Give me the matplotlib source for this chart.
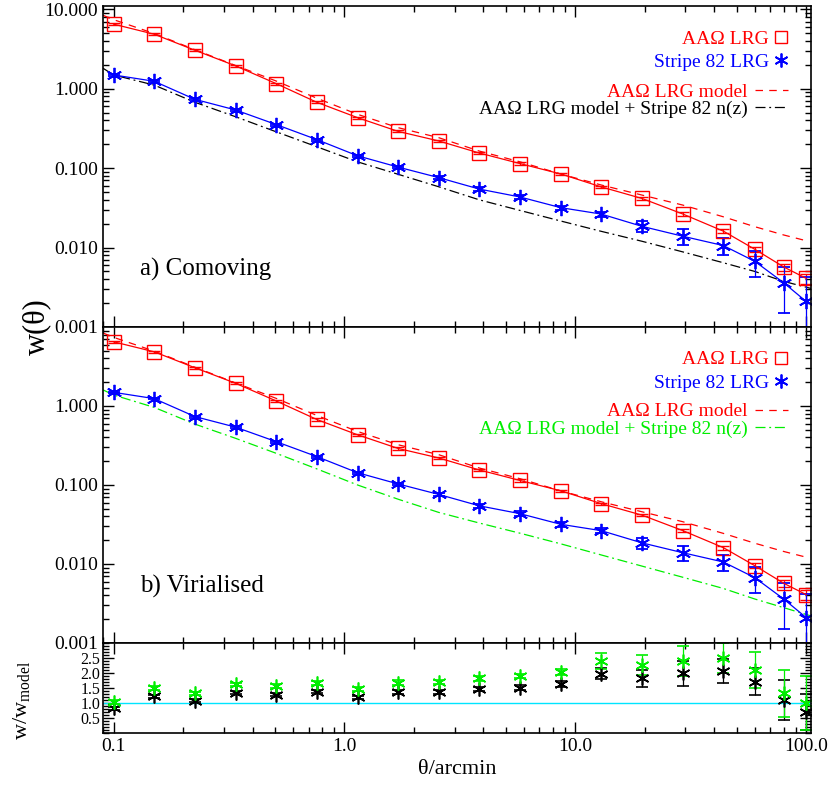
import matplotlib
matplotlib.use("Agg")
import matplotlib.pyplot as plt
from matplotlib.lines import Line2D
from matplotlib.ticker import MultipleLocator, NullFormatter

plt.rcParams["font.family"] = ["Liberation Serif", "DejaVu Serif"]
plt.rcParams["mathtext.fontset"] = "custom"
plt.rcParams["mathtext.rm"] = "Liberation Serif"
plt.rcParams["mathtext.it"] = "Liberation Serif:italic"

# angular bins (arcmin)
theta = [0.1, 0.15, 0.225, 0.3375, 0.506, 0.759, 1.14, 1.71, 2.56, 3.84,
         5.77, 8.65, 12.97, 19.46, 29.19, 43.8, 60, 80, 100]

# AAOmega LRG w(theta)
w_aao = [6.5, 4.85, 3.05, 1.94, 1.16, 0.675, 0.432, 0.290, 0.220, 0.155,
         0.114, 0.0845, 0.058, 0.0415, 0.0265, 0.0161, 0.0095, 0.0057, 0.0041]
err_aao = [0.2, 0.15, 0.09, 0.06, 0.035, 0.02, 0.013, 0.009, 0.007, 0.005,
           0.004, 0.003, 0.002, 0.0015, 0.0012, 0.0009, 0.0007, 0.0006, 0.0006]

# Stripe 82 LRG w(theta)
w_s82 = [1.49, 1.24, 0.735, 0.54, 0.354, 0.229, 0.143, 0.103, 0.076, 0.0545,
         0.0433, 0.0318, 0.0264, 0.0185, 0.0139, 0.0106, 0.0067, 0.0036, 0.0021]
err_s82 = [0.03, 0.03, 0.02, 0.015, 0.01, 0.007, 0.005, 0.004, 0.003, 0.003,
           0.003, 0.002, 0.0018, 0.0028, 0.003, 0.0025, 0.0024, 0.0021, 0.0021]

# model curves
theta_model = [0.09, 0.1, 0.15, 0.225, 0.3375, 0.506, 0.759, 1.14, 1.71, 2.56,
               3.84, 5.77, 8.65, 12.97, 19.46, 29.19, 43.8, 60, 80, 100]
w_model_aao = [8.4, 7.4, 4.95, 3.1, 1.96, 1.25, 0.76, 0.476, 0.323, 0.242,
               0.164, 0.120, 0.0843, 0.0613, 0.0458, 0.0343, 0.0244, 0.0183,
               0.0144, 0.0122]
theta_model_nz = [0.09, 0.1, 0.15, 0.225, 0.3375, 0.506, 0.759, 1.14, 1.71,
                  2.56, 3.84, 5.77, 8.65, 12.97, 19.46, 29.19, 43.8, 60, 80, 105]
w_model_nz_com = [1.81, 1.49, 1.11, 0.675, 0.444, 0.287, 0.186, 0.120, 0.0836,
                  0.0583, 0.0399, 0.0293, 0.0216, 0.016, 0.012, 0.00883,
                  0.00644, 0.0050, 0.00375, 0.00306]
w_model_nz_vir = [1.6, 1.38, 0.96, 0.59, 0.39, 0.252, 0.160, 0.100, 0.066,
                  0.045, 0.033, 0.0245, 0.018, 0.013, 0.0094, 0.0068, 0.0049,
                  0.0036, 0.0028, 0.0022]

# ratio w / w_model
ratio_com = [0.82, 1.23, 1.07, 1.34, 1.27, 1.38, 1.19, 1.36, 1.36, 1.46,
             1.51, 1.62, 1.97, 1.82, 1.99, 2.07, 1.71, 1.10, 0.71]
ratio_com_err = [0.05, 0.05, 0.05, 0.05, 0.05, 0.05, 0.05, 0.06, 0.06, 0.07,
                 0.08, 0.1, 0.18, 0.29, 0.42, 0.4, 0.45, 0.65, 0.6]
ratio_vir = [1.04, 1.49, 1.32, 1.62, 1.57, 1.66, 1.46, 1.68, 1.69, 1.82,
             1.90, 2.02, 2.40, 2.27, 2.40, 2.49, 2.10, 1.32, 0.99]
ratio_vir_err = [0.06, 0.06, 0.06, 0.06, 0.06, 0.06, 0.06, 0.07, 0.07, 0.08,
                 0.08, 0.1, 0.28, 0.33, 0.5, 0.5, 0.6, 0.79, 0.9]

star = (6, 2, 0)
dash = (0, (6, 5))
dashdot = (0, (8, 3, 1.5, 3))

fig = plt.figure(figsize=(8.3, 7.87), dpi=100)
ax1 = fig.add_axes([0.1241, 0.5845, 0.853, 0.4079])
ax2 = fig.add_axes([0.1241, 0.183, 0.853, 0.4015], sharex=ax1)
ax3 = fig.add_axes([0.1241, 0.0686, 0.853, 0.1144], sharex=ax1)

panels = [
    (ax1, w_model_nz_com, "black", "a) Comoving", 11),
    (ax2, w_model_nz_vir, "#00ee00", "b) Virialised", 10),
]
for ax, nz_model, nz_col, name, ytop in panels:
    ax.plot(theta_model, w_model_aao, color="red", ls=dash, lw=0.9)
    ax.plot(theta_model_nz, nz_model, color=nz_col, ls=dashdot, lw=0.9)
    ax.errorbar(theta, w_aao, yerr=err_aao, color="red", marker="s", mfc="none",
                ms=9.5, mew=1.0, lw=0.9, elinewidth=0.9, capsize=4)
    ax.errorbar(theta, w_s82, yerr=err_s82, color="blue", marker=star,
                ms=11, mew=1.3, lw=0.9, elinewidth=0.9, capsize=4)
    ax.set_xscale("log")
    ax.set_yscale("log")
    ax.set_ylim(0.001, ytop)
    ax.text(0.052, 0.178, name, transform=ax.transAxes, fontsize=18, va="center")

    h_data = [
        Line2D([], [], color="red", marker="s", ls="none", mfc="none", ms=9),
        Line2D([], [], color="blue", marker=star, ls="none", ms=10, mew=1.3),
    ]
    leg1 = ax.legend(h_data, ["AAΩ LRG", "Stripe 82 LRG"], loc="upper right",
                     bbox_to_anchor=(0.968, 0.925), markerfirst=False,
                     frameon=False, fontsize=14, labelcolor="linecolor",
                     handlelength=0.8, handletextpad=0.2, borderpad=0,
                     labelspacing=0.3, borderaxespad=0)
    ax.add_artist(leg1)
    h_mod = [
        Line2D([], [], color="red", ls=dash, lw=0.9),
        Line2D([], [], color=nz_col, ls=dashdot, lw=0.9),
    ]
    ax.legend(h_mod, ["AAΩ LRG model", "AAΩ LRG model + Stripe 82 n(z)"],
              loc="upper right", bbox_to_anchor=(0.968, 0.76),
              markerfirst=False, frameon=False, fontsize=14,
              labelcolor="linecolor", handlelength=1.7, handletextpad=0.4,
              borderpad=0, labelspacing=0.0, borderaxespad=0)

ax1.set_yticks([0.001, 0.01, 0.1, 1, 10], ["0.001", "0.010", "0.100", "1.000", "10.000"])
ax2.set_yticks([0.001, 0.01, 0.1, 1], ["0.001", "0.010", "0.100", "1.000"])

ax3.axhline(1.0, color="#00e5ff", lw=1.0)
ax3.errorbar(theta, ratio_com, yerr=ratio_com_err, color="black", marker=star,
             ls="none", ms=10, mew=1.2, elinewidth=0.9, capsize=4)
ax3.errorbar(theta, ratio_vir, yerr=ratio_vir_err, color="#00ee00", marker=star,
             ls="none", ms=10, mew=1.2, elinewidth=0.9, capsize=4)
ax3.set_ylim(0, 3)
ax3.set_yticks([0.5, 1.0, 1.5, 2.0, 2.5], ["0.5", "1.0", "1.5", "2.0", "2.5"])
ax3.yaxis.set_minor_locator(MultipleLocator(0.1))
ax3.set_xlim(0.09, 105)
ax3.set_xticks([0.1, 1, 10, 100], ["0.1", "1.0", "10.0", "100.0"])
ax3.xaxis.set_minor_formatter(NullFormatter())
ax3.set_xlabel("θ/arcmin", fontsize=16, labelpad=4)

for ax in (ax1, ax2, ax3):
    ax.tick_params(which="both", direction="in", top=True, right=True,
                   labelsize=14, width=1.0)
    ax.tick_params(which="major", length=8)
    ax.tick_params(which="minor", length=4)
    for s in ax.spines.values():
        s.set_linewidth(1.2)
ax1.tick_params(labelbottom=False)
ax2.tick_params(labelbottom=False)
ax3.tick_params(axis="y", labelsize=11.5, pad=2)

fig.text(37 / 830, 1 - 327 / 787, "w(θ)", rotation=90, fontsize=22,
         ha="center", va="center")
fig.text(22 / 830, 1 - 700 / 787, r"w/w$_{\rm model}$", rotation=90,
         fontsize=16, ha="center", va="center")

fig.savefig("out.png", dpi=100)
